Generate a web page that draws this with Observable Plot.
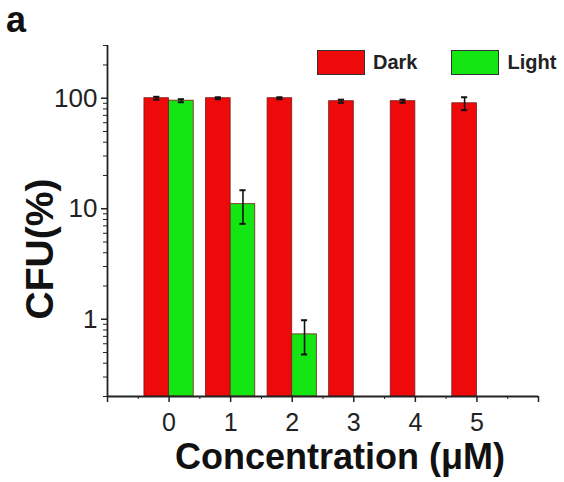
<!DOCTYPE html>
<html>
<head>
<meta charset="utf-8">
<script src="https://cdn.jsdelivr.net/npm/d3@7"></script>
<script src="https://cdn.jsdelivr.net/npm/@observablehq/plot@0.6"></script>
<style>
  html, body { margin: 0; padding: 0; background: #fff; }
  #wrap { position: relative; width: 564px; height: 482px; font-family: "Liberation Sans", Arial, sans-serif; }
  #panel { position: absolute; left: 6px; top: 2px; font-size: 36px; line-height: 36px; font-weight: bold; color: #111; }
  #legend { position: absolute; left: 317px; top: 50px; display: flex; align-items: center; font-size: 20px; font-weight: bold; color: #222; }
  .sw { width: 48px; height: 25px; border: 1px solid #333; box-sizing: border-box; margin-right: 8px; }
  .lab { margin-right: 34px; }
</style>
</head>
<body>
<div id="wrap">
  <div id="chart"></div>
  <div id="panel">a</div>
  <div id="legend"></div>
</div>
<script>
// ---- data ----
const concentrations = [0, 1, 2, 3, 4, 5];
const darkValues  = [100, 100, 100, 94, 94, 90];
const darkErrors  = [3, 2, 2, 3, 3, 12];
const lightConc   = [0, 1, 2];
const lightValues = [95, 11, 0.73];
const lightErrors = [3, 3.7, 0.25];
const seriesNames = ["Dark", "Light"];
const seriesColors = ["#ee0a0a", "#14e614"];
const xTickLabels = ["0", "1", "2", "3", "4", "5"];
const yMajorTicks = [1, 10, 100];
const xDomain = [-1, 6];
const yDomain = [0.2, 300];

const barWidth = 0.4;
const rows = [];
concentrations.forEach((c, i) => rows.push({series: "Dark", c, v: darkValues[i], e: darkErrors[i], x1: c - barWidth, x2: c}));
lightConc.forEach((c, i) => rows.push({series: "Light", c, v: lightValues[i], e: lightErrors[i], x1: c, x2: c + barWidth}));
rows.forEach(d => { d.xm = (d.x1 + d.x2) / 2; d.lo = d.v - d.e; d.hi = d.v + d.e; });

const yMinor = [];
for (const p of [0.1, 1, 10, 100]) for (let k = 2; k <= 9; k++) { const t = +(k * p).toPrecision(3); if (t >= yDomain[0] && t <= yDomain[1] && !yMajorTicks.includes(t)) yMinor.push(t); }
const xMinor = d3.range(xDomain[0] + 0.5, xDomain[1], 1);

const colorOf = s => seriesColors[seriesNames.indexOf(s)];

const chart = Plot.plot({
  width: 564,
  height: 482,
  marginLeft: 107,
  marginRight: 26,
  marginTop: 45,
  marginBottom: 86,
  style: {fontFamily: "'Liberation Sans', Arial, sans-serif", color: "#222", background: "transparent"},
  x: {type: "linear", domain: xDomain},
  y: {type: "log", domain: yDomain},
  marks: [
    Plot.rect(rows, {x1: "x1", x2: "x2", y1: yDomain[0], y2: "v", fill: d => colorOf(d.series), stroke: "#7a1a1a", strokeWidth: 0.8}),
    Plot.ruleX(rows, {x: "xm", y1: "lo", y2: "hi", stroke: "#111", strokeWidth: 1.6}),
    Plot.ruleY(rows, {y: "hi", x1: d => d.xm - 0.05, x2: d => d.xm + 0.05, stroke: "#111", strokeWidth: 2}),
    Plot.ruleY(rows, {y: "lo", x1: d => d.xm - 0.05, x2: d => d.xm + 0.05, stroke: "#111", strokeWidth: 2}),
    Plot.ruleX([xDomain[0]], {stroke: "#222", strokeWidth: 1.8}),
    Plot.ruleY([yDomain[0]], {stroke: "#222", strokeWidth: 1.8}),
    Plot.axisY({ticks: yMajorTicks, tickSize: 6, tickPadding: 4, tickFormat: d => String(d), fontSize: 26, label: null, stroke: "#222", strokeWidth: 1.5}),
    Plot.axisY({ticks: yMinor, tickSize: 4, tickFormat: () => "", label: null, stroke: "#222"}),
    Plot.axisX({ticks: concentrations, tickSize: 6, tickPadding: 11, tickFormat: (d, i) => xTickLabels[i], fontSize: 25, label: null, stroke: "#222", strokeWidth: 1.5}),
    Plot.axisX({ticks: [xDomain[0], xDomain[1]], tickSize: 6, tickFormat: () => "", label: null, stroke: "#222", strokeWidth: 1.5}),
    Plot.axisX({ticks: xMinor, tickSize: 3, tickFormat: () => "", label: null, stroke: "#222"}),
    Plot.text(["CFU(%)"], {frameAnchor: "left", textAnchor: "middle", dx: -67, dy: 28, rotate: -90, fontSize: 39, fontWeight: "bold", fill: "#111"}),
    Plot.text(["Concentration (\u03bcM)"], {frameAnchor: "bottom", textAnchor: "middle", dx: 17, dy: 72, fontSize: 36, fontWeight: "bold", fill: "#111"})
  ]
});
document.getElementById("chart").appendChild(chart);

const legend = document.getElementById("legend");
seriesNames.forEach((s, i) => {
  const sw = document.createElement("div");
  sw.className = "sw";
  sw.style.background = seriesColors[i];
  const lab = document.createElement("span");
  lab.className = "lab";
  lab.textContent = s;
  legend.appendChild(sw);
  legend.appendChild(lab);
});
</script>
</body>
</html>
